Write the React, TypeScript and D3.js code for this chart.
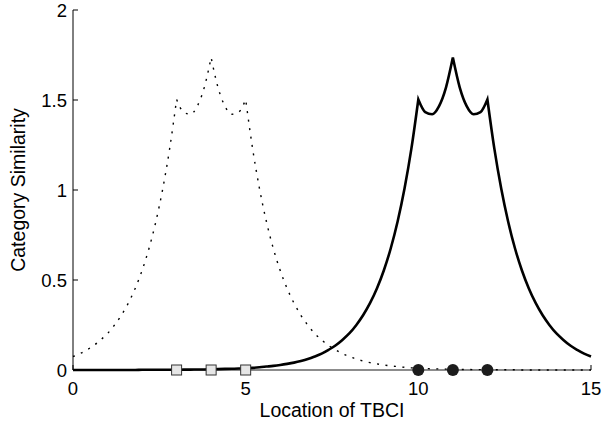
import React from 'react';
import * as d3 from 'd3';

// sampling grid along the TBCI axis (0 .. 15, step 0.2)
const sampleX = d3.range(76).map(i => +(i * 0.2).toFixed(1));

// dotted curve (category centred on 3, 4, 5)
const dottedY = [
  0.075, 0.091, 0.112, 0.136, 0.167, 0.203, 0.249, 0.304, 0.371, 0.453,
  0.553, 0.675, 0.825, 1.008, 1.231, 1.503, 1.433, 1.421, 1.466, 1.569,
  1.736, 1.569, 1.466, 1.421, 1.433, 1.503, 1.231, 1.008, 0.825, 0.675,
  0.553, 0.453, 0.371, 0.304, 0.249, 0.203, 0.167, 0.136, 0.112, 0.091,
  0.075, 0.061, 0.050, 0.041, 0.034, 0.028, 0.023, 0.019, 0.015, 0.012,
  0.010, 0.008, 0.007, 0.006, 0.005, 0.004, 0.003, 0.003, 0.002, 0.002,
  0.001, 0.001, 0.001, 0.001, 0.001, 0, 0, 0, 0, 0,
  0, 0, 0, 0, 0, 0,
];

// solid curve (category centred on 10, 11, 12)
const solidY = [
  0, 0, 0, 0, 0, 0, 0, 0, 0, 0,
  0.001, 0.001, 0.001, 0.001, 0.001, 0.001, 0.002, 0.002, 0.003, 0.003,
  0.004, 0.005, 0.006, 0.007, 0.008, 0.010, 0.012, 0.015, 0.019, 0.023,
  0.028, 0.034, 0.041, 0.050, 0.061, 0.075, 0.091, 0.112, 0.136, 0.167,
  0.203, 0.249, 0.304, 0.371, 0.453, 0.553, 0.675, 0.825, 1.008, 1.231,
  1.503, 1.433, 1.421, 1.466, 1.569, 1.736, 1.569, 1.466, 1.421, 1.433,
  1.503, 1.231, 1.008, 0.825, 0.675, 0.553, 0.453, 0.371, 0.304, 0.249,
  0.203, 0.167, 0.136, 0.112, 0.091, 0.075,
];

// exemplar positions (also where the curves have their cusps)
const squareX = [3, 4, 5];
const circleX = [10, 11, 12];

const xTicks = [0, 5, 10, 15];
const yTicks = [0, 0.5, 1, 1.5, 2];

const W = 602;
const H = 426;
const FONT = "'Liberation Sans', Arial, Helvetica, sans-serif";

export default function App() {
  const x = d3.scaleLinear().domain([0, 15]).range([73, 591]);
  const y = d3.scaleLinear().domain([0, 2]).range([370, 10]);

  const line = d3.line<[number, number]>()
    .x(d => x(d[0]))
    .y(d => y(d[1]))
    .curve(d3.curveMonotoneX);

  // smooth between cusps, sharp at the cusps: one subpath, pieces joined with L
  const cuspPath = (vals: number[], cusps: number[]) => {
    const pts: [number, number][] = sampleX.map((v, i) => [v, vals[i]]);
    const pieces: [number, number][][] = [];
    let cur: [number, number][] = [];
    pts.forEach(p => {
      cur.push(p);
      if (cusps.includes(p[0])) { pieces.push(cur); cur = [p]; }
    });
    if (cur.length > 1) pieces.push(cur);
    return pieces.map((pc, i) => {
      const d = line(pc) ?? '';
      return i === 0 ? d : 'L' + d.slice(1);
    }).join('');
  };

  const x0 = x(0);
  const y0 = y(0);

  return (
    <svg width={W} height={H} style={{ position: 'absolute', left: 0, top: 0, background: '#fff' }}>
      {/* axes */}
      <line x1={x0} x2={x(15)} y1={y0} y2={y0} stroke="#666" strokeWidth={1.5} />
      <line x1={x0} x2={x0} y1={y0} y2={y(2)} stroke="#000" strokeWidth={1} />
      {xTicks.map(t => (
        <g key={'xt' + t}>
          <line x1={x(t)} x2={x(t)} y1={y0} y2={y0 - 5} stroke="#000" strokeWidth={1} />
          <text x={x(t)} y={395} textAnchor="middle" fontSize={18.5} fontFamily={FONT}>{t}</text>
        </g>
      ))}
      {yTicks.map(t => (
        <g key={'yt' + t}>
          <line x1={x0} x2={x0 + 5} y1={y(t)} y2={y(t)} stroke="#000" strokeWidth={1} />
          <text x={67} y={y(t)} dy="0.36em" textAnchor="end" fontSize={18.5} fontFamily={FONT}>{t}</text>
        </g>
      ))}

      {/* curves */}
      <path d={cuspPath(dottedY, squareX)} fill="none" stroke="#000" strokeWidth={1.4} strokeDasharray="2,6.5" />
      <path d={cuspPath(solidY, circleX)} fill="none" stroke="#000" strokeWidth={2.6} strokeLinejoin="miter" />

      {/* exemplar markers */}
      {squareX.map(v => (
        <rect key={'s' + v} x={x(v) - 5} y={y0 - 5} width={10} height={10} fill="#e6e6e6" stroke="#333" strokeWidth={1} />
      ))}
      {circleX.map(v => (
        <circle key={'c' + v} cx={x(v)} cy={y0} r={6} fill="#1c1c1c" />
      ))}

      {/* labels */}
      <text x={(x(0) + x(15)) / 2} y={417} textAnchor="middle" fontSize={19.5} fontFamily={FONT}>Location of TBCI</text>
      <text transform={`translate(25,${(y(0) + y(2)) / 2}) rotate(-90)`} textAnchor="middle" fontSize={19.5} fontFamily={FONT}>Category Similarity</text>
    </svg>
  );
}
